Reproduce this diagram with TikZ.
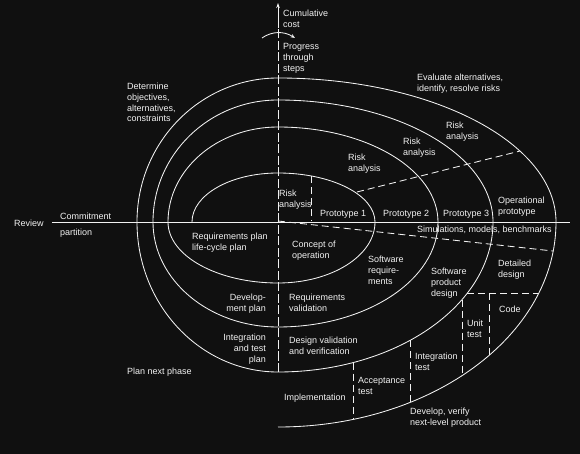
\documentclass[tikz,border=0pt]{standalone}
\usepackage{fontspec}
\setmainfont{Liberation Sans}
\usetikzlibrary{arrows.meta}
\definecolor{bg}{RGB}{16,16,16}
\definecolor{fg}{RGB}{242,242,242}
\begin{document}
\begin{tikzpicture}[x=1pt,y=1pt,
  line/.style={draw=fg,line width=0.85pt},
  dline/.style={draw=fg,line width=0.85pt,dash pattern=on 7pt off 4pt},
  axisdash/.style={draw=fg,line width=0.85pt,dash pattern=on 9pt off 2.5pt},
  lbl/.style={text=fg,font=\fontsize{9}{10.8}\selectfont,inner sep=0pt,align=left,anchor=base west},
  rlbl/.style={text=fg,font=\fontsize{9}{10.8}\selectfont,inner sep=0pt,align=right,anchor=base east}]
\fill[bg] (-278,-232) rectangle (302,222);
\useasboundingbox (-278,-232) rectangle (302,222);
% horizontal axis
\draw[line] (-226,0) -- (292,0);
% vertical axis
\draw[axisdash] (0,-150) -- (0,196);
\draw[line,-{Stealth[length=5pt,width=3.5pt]}] (0,194) -- (0,219);
% curved progress arrow
\draw[line,-{Stealth[length=4.5pt,width=3.5pt]}] (-16,184) .. controls (-6,191) and (6,191) .. (17,184);
% spiral
\draw[line] (-86,0)
  arc[start angle=180,end angle=90,x radius=86,y radius=49]
  arc[start angle=90,end angle=0,x radius=97,y radius=49]
  arc[start angle=0,end angle=-90,x radius=97,y radius=61]
  arc[start angle=-90,end angle=-180,x radius=110,y radius=61]
  arc[start angle=180,end angle=90,x radius=110,y radius=95]
  arc[start angle=90,end angle=0,x radius=160,y radius=95]
  arc[start angle=0,end angle=-90,x radius=160,y radius=105]
  arc[start angle=-90,end angle=-180,x radius=125,y radius=105]
  arc[start angle=180,end angle=90,x radius=125,y radius=122]
  arc[start angle=90,end angle=0,x radius=215,y radius=122]
  arc[start angle=0,end angle=-90,x radius=215,y radius=150]
  arc[start angle=-90,end angle=-180,x radius=141,y radius=150]
  arc[start angle=180,end angle=90,x radius=141,y radius=144]
  arc[start angle=90,end angle=0,x radius=278,y radius=144]
  arc[start angle=0,end angle=-90,x radius=278,y radius=205];
% dashed separators
\draw[dline] (0,1) -- (275,-29);
\draw[dline] (79,30) -- (242,71);
\draw[dline] (33,{49*sqrt(1-(33/97)^2)}) -- (33,1);
\draw[dline] ({215*sqrt(1-(71/150)^2)},-71) -- ({278*sqrt(1-(71/205)^2)},-71);
\draw[dline] (184,{-150*sqrt(1-(184/215)^2)}) -- (184,{-205*sqrt(1-(184/278)^2)});
\draw[dline] (211,-71) -- (211,{-205*sqrt(1-(211/278)^2)});
\draw[dline] (132,{-150*sqrt(1-(132/215)^2)}) -- (132,{-205*sqrt(1-(132/278)^2)});
\draw[dline] (75,{-150*sqrt(1-(75/215)^2)}) -- (75,{-205*sqrt(1-(75/278)^2)});
% labels
\node[lbl] (cc) at (5,194.7) {Cumulative\\cost};
\node[lbl] (pts) at (5,150.9) {Progress\\through\\steps};
\node[lbl] (det) at (-151,100.1) {Determine\\objectives,\\alternatives,\\constraints};
\node[lbl] (eva) at (139,130.7) {Evaluate alternatives,\\identify, resolve risks};
\node[lbl] (ra4) at (168,82.7) {Risk\\analysis};
\node[lbl] (ra3) at (125,66.7) {Risk\\analysis};
\node[lbl] (ra2) at (70,50.7) {Risk\\analysis};
\node[lbl] (ra1) at (1,14.7) {Risk\\analysis};
\node[lbl] (p1) at (42,5.5) {Prototype 1};
\node[lbl] (p2) at (105,5.5) {Prototype 2};
\node[lbl] (p3) at (165,5.5) {Prototype 3};
\node[lbl] (op) at (220,7.7) {Operational\\prototype};
\node[lbl] (sim) at (139,-11) {Simulations, models, benchmarks};
\node[lbl] (rev) at (-264,-4.5) {Review};
\node[lbl] (com) at (-218,2.5) {Commitment};
\node[lbl] (par) at (-218,-13.5) {partition};
\node[lbl] (rp) at (-86,-28.3) {Requirements plan\\life-cycle plan};
\node[lbl] (co) at (14,-36.3) {Concept of\\operation};
\node[lbl] (sr) at (90,-62.1) {Software\\require-\\ments};
\node[lbl] (spd) at (153,-74.1) {Software\\product\\design};
\node[lbl] (dd) at (220,-55.3) {Detailed\\design};
\node[lbl] (code) at (221,-90.5) {Code};
\node[lbl] (ut) at (189,-115.8) {Unit\\test};
\node[rlbl] (dp) at (-12,-89.3) {Develop-\\ment plan};
\node[lbl] (rv) at (11,-89.3) {Requirements\\validation};
\node[rlbl] (itp) at (-12,-140.1) {Integration\\and test\\plan};
\node[lbl] (dvv) at (11,-132.3) {Design validation\\and verification};
\node[lbl] (it) at (137,-148.3) {Integration\\test};
\node[lbl] (at) at (80,-172.3) {Acceptance\\test};
\node[lbl] (imp) at (6,-178.5) {Implementation};
\node[lbl] (dv) at (132,-203.3) {Develop, verify\\next-level product};
\node[lbl] (pnp) at (-151,-152.5) {Plan next phase};
\end{tikzpicture}
\end{document}
